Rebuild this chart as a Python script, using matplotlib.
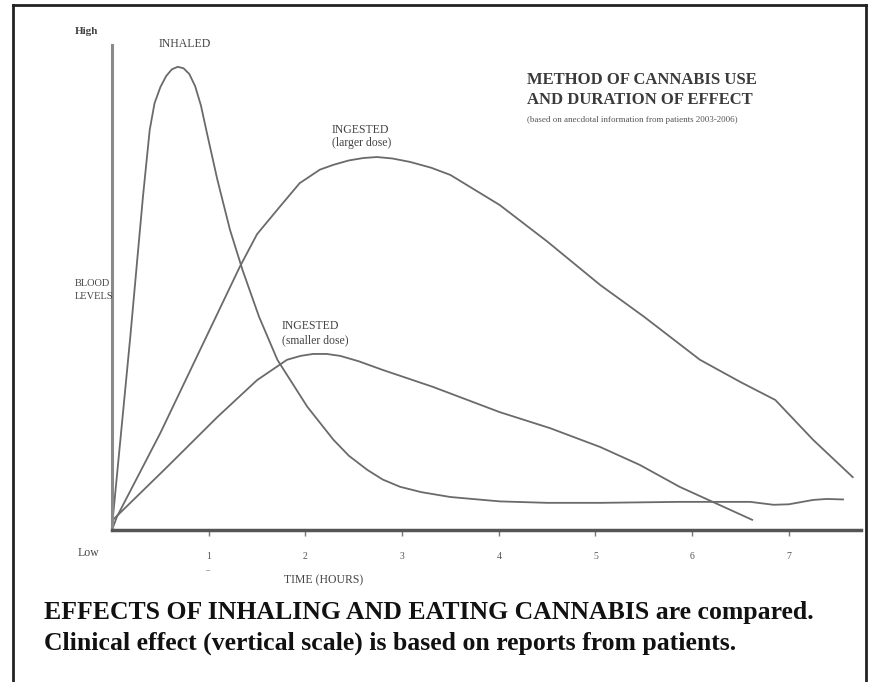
import matplotlib
matplotlib.use("Agg")
import matplotlib.pyplot as plt
from matplotlib.lines import Line2D

plt.rcParams['font.family'] = ['Liberation Serif', 'DejaVu Serif']

# time in hours, blood level on a 0-100 scale (High = 100)
inhaled_t = [0.0, 0.01, 0.19, 0.27, 0.32, 0.39, 0.44, 0.50, 0.56, 0.62, 0.68, 0.74,
             0.80, 0.86, 0.92, 0.98, 1.09, 1.22, 1.35, 1.52, 1.71, 2.02, 2.29, 2.45,
             2.64, 2.80, 2.98, 3.20, 3.50, 4.01, 4.50, 5.05, 5.87, 6.60, 6.84, 7.00,
             7.25, 7.39, 7.56]
inhaled_v = [0.0, 2.7, 40.0, 57.7, 68.7, 82.5, 88.0, 91.3, 93.6, 95.0, 95.5, 95.2,
             94.0, 91.5, 87.5, 82.0, 72.2, 61.9, 53.6, 44.0, 35.1, 25.4, 18.6, 15.3,
             12.4, 10.4, 8.9, 7.8, 6.8, 5.9, 5.6, 5.6, 5.8, 5.8, 5.2, 5.3,
             6.2, 6.4, 6.3]

large_t = [0.0, 0.05, 0.50, 0.91, 1.32, 1.50, 1.75, 1.94, 2.15, 2.29, 2.45, 2.60,
           2.74, 2.90, 3.08, 3.30, 3.50, 4.01, 4.50, 5.05, 5.50, 6.08, 6.50, 6.86,
           7.25, 7.66]
large_v = [0.0, 2.7, 20.0, 37.1, 54.2, 61.0, 67.0, 71.5, 74.3, 75.3, 76.2, 76.7,
           76.9, 76.6, 75.9, 74.7, 73.2, 67.0, 59.5, 50.5, 44.0, 35.1, 30.5, 26.8,
           18.6, 10.9]

small_t = [0.0, 0.01, 0.57, 1.09, 1.50, 1.81, 1.95, 2.08, 2.22, 2.36, 2.55, 2.80,
           3.32, 4.01, 4.53, 5.05, 5.46, 5.87, 6.62]
small_v = [0.0, 2.1, 13.0, 23.3, 30.9, 35.1, 35.9, 36.3, 36.3, 35.9, 34.8, 33.0,
           29.5, 24.3, 21.0, 17.1, 13.4, 8.9, 2.1]

hours = [1, 2, 3, 4, 5, 6, 7]
hour_labels = ['1', '2', '3', '4', '5', '6', '7']

W, H = 870, 682


def fx(px):
    return px / W


def fy(py):
    return 1 - py / H


fig = plt.figure(figsize=(8.7, 6.82), dpi=100)
fig.patch.set_facecolor('white')

# axes: origin at pixel (112, 530), 1 hour = 96.7 px, level 100 at y=45
x0, y0, ytop = 112, 530, 45
xmax = 7.75
ax = fig.add_axes([fx(x0), fy(y0), xmax * 96.7 / W, (y0 - ytop) / H])
ax.set_xlim(0, xmax)
ax.set_ylim(0, 100)

line_col = '#6a6a6a'
for t, v in [(inhaled_t, inhaled_v), (large_t, large_v), (small_t, small_v)]:
    ax.plot(t, v, color=line_col, lw=1.3, solid_joinstyle='round')

for s in ['top', 'right']:
    ax.spines[s].set_visible(False)
ax.spines['left'].set_color('#8a8a8a')
ax.spines['left'].set_linewidth(2.2)
ax.spines['bottom'].set_color('#555555')
ax.spines['bottom'].set_linewidth(2.5)
ax.set_yticks([])
ax.set_xticks(hours)
ax.set_xticklabels(hour_labels, fontsize=7, color='#555555')
ax.tick_params(axis='x', length=4, width=1, color='#777777', pad=12)

txt = '#444444'
fig.text(fx(75), fy(32), 'High', fontsize=8, color=txt, va='center', weight='bold')
fig.text(fx(185), fy(44), 'INHALED', fontsize=8.5, color=txt, va='center', ha='center')
fig.text(fx(75), fy(283), 'BLOOD', fontsize=7.5, color=txt, va='center')
fig.text(fx(75), fy(296), 'LEVELS', fontsize=7.5, color=txt, va='center')
fig.text(fx(78), fy(553), 'Low', fontsize=8.5, color=txt, va='center')
fig.text(fx(205), fy(568), '_', fontsize=6, color=txt, va='center')
fig.text(fx(284), fy(580), 'TIME (HOURS)', fontsize=8.5, color=txt, va='center')

fig.text(fx(332), fy(130), 'INGESTED', fontsize=8.5, color=txt, va='center')
fig.text(fx(332), fy(143), '(larger dose)', fontsize=8.5, color=txt, va='center')
fig.text(fx(282), fy(326), 'INGESTED', fontsize=8.5, color=txt, va='center')
fig.text(fx(282), fy(340), '(smaller dose)', fontsize=8.5, color=txt, va='center')

fig.text(fx(527), fy(80), 'METHOD OF CANNABIS USE', fontsize=12, weight='bold',
         color='#3a3a3a', va='center')
fig.text(fx(527), fy(100), 'AND DURATION OF EFFECT', fontsize=12, weight='bold',
         color='#3a3a3a', va='center')
fig.text(fx(527), fy(120), '(based on anecdotal information from patients 2003-2006)',
         fontsize=6.5, color='#555555', va='center')

fig.text(fx(44), fy(612), 'EFFECTS OF INHALING AND EATING CANNABIS are compared.',
         fontsize=18.5, weight='bold', color='#111111', va='center')
fig.text(fx(44), fy(643), 'Clinical effect (vertical scale) is based on reports from patients.',
         fontsize=18.5, weight='bold', color='#111111', va='center')

# frame around the figure
frame_kw = dict(color='#222222', lw=2, transform=fig.transFigure)
fig.add_artist(Line2D([fx(13), fx(13)], [0, fy(5)], **frame_kw))
fig.add_artist(Line2D([fx(13), fx(866)], [fy(5), fy(5)], **frame_kw))
fig.add_artist(Line2D([fx(866), fx(866)], [0, fy(5)], **frame_kw))

fig.savefig('out.png', dpi=100)
